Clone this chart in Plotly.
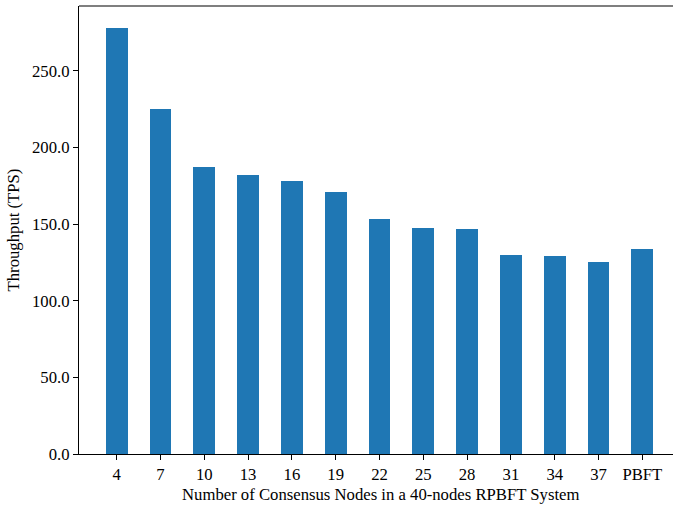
import plotly.graph_objects as go

categories = ["4", "7", "10", "13", "16", "19", "22", "25", "28", "31", "34", "37", "PBFT"]
throughput = [278.0, 225.2, 187.4, 182.2, 178.3, 171.1, 153.5, 147.8, 147.1, 130.2, 129.5, 125.0, 133.5]
y_ticks = [0, 50, 100, 150, 200, 250]
y_tick_labels = ["0.0", "50.0", "100.0", "150.0", "200.0", "250.0"]

xpos = list(range(len(categories)))
FONT = "Liberation Serif, Times New Roman, serif"
FS = 16.7

fig = go.Figure(go.Bar(x=xpos, y=throughput, width=0.5, marker=dict(color="#1f77b4", line=dict(width=0))))

W, H = 673, 508
L, T, B = 79, 6, 53.5
fig.update_layout(
    width=W, height=H,
    margin=dict(l=L, r=0, t=T, b=B, pad=0),
    plot_bgcolor="white", paper_bgcolor="white",
    font=dict(family=FONT, size=FS, color="black"),
    showlegend=False,
    bargap=0,
)
fig.update_xaxes(
    range=[-0.86, 12.7], tickmode="array", tickvals=xpos, ticktext=categories,
    showline=True, linecolor="black", linewidth=1.2,
    ticks="outside", ticklen=5, tickcolor="black", showgrid=False, zeroline=False,
)
fig.update_yaxes(
    range=[0, 292.4], tickmode="array", tickvals=y_ticks, ticktext=y_tick_labels,
    showline=True, linecolor="black", linewidth=1.2,
    ticks="outside", ticklen=5, tickcolor="black", showgrid=False, zeroline=False,
    title=dict(text="Throughput (TPS)", standoff=8, font=dict(size=FS)),
)
fig.add_shape(type="line", xref="paper", yref="paper", x0=0, x1=1.01, y0=1, y1=1,
              line=dict(color="black", width=1.2))
plot_w = W - L
fig.add_annotation(
    text="Number of Consensus Nodes in a 40-nodes RPBFT System",
    xref="paper", yref="paper", x=(380 - L) / plot_w, y=0, yshift=-29,
    xanchor="center", yanchor="top", showarrow=False, font=dict(size=FS),
)
fig.write_html("out.html", config={"displayModeBar": False})
with open("out.html", encoding="utf-8") as f:
    html = f.read()
html = html.replace(
    "<head>",
    "<head><style>html,body{margin:0;padding:0;overflow:hidden;border:0;background:white}</style>",
    1,
)
with open("out.html", "w", encoding="utf-8") as f:
    f.write(html)
